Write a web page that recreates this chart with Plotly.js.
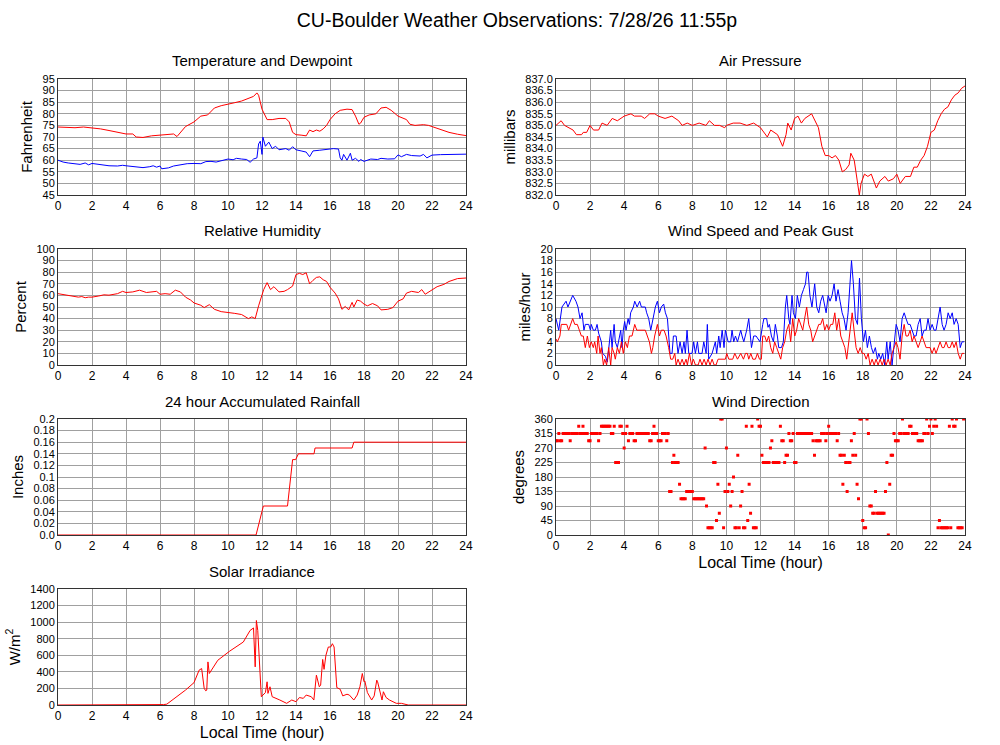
<!DOCTYPE html>
<html>
<head>
<meta charset="utf-8">
<script src="https://cdn.plot.ly/plotly-3.0.1.min.js"></script>
<style>
  html, body { margin: 0; padding: 0; background: #fff; }
  #chart { width: 1000px; height: 745px; }
</style>
</head>
<body>
<div id="chart"></div>
<script>
// Temperature (red) and dewpoint (blue), deg F
const tempHr = [0, 0.5, 1, 1.5, 2, 2.5, 3, 3.5, 4, 4.4, 4.6, 5, 5.5, 6, 6.5, 6.8, 7, 7.2, 7.5, 8, 8.4, 8.8, 9.2, 9.6, 10, 10.4, 10.8, 11.2, 11.5, 11.7, 11.8, 12, 12.3, 12.6, 13, 13.4, 13.6, 13.8, 14, 14.3, 14.6, 14.8, 15, 15.2, 15.4, 15.6, 15.8, 16, 16.3, 16.6, 17, 17.3, 17.5, 17.7, 17.8, 18, 18.3, 18.7, 19, 19.3, 19.6, 20, 20.2, 20.5, 20.7, 21, 21.3, 21.5, 21.8, 22, 22.4, 23, 23.5, 24];
const tempF = [74.3, 74, 74, 74.3, 74, 73.5, 72.8, 72, 71.3, 71.3, 70, 69.8, 70.5, 70.8, 71.2, 71.3, 70.2, 72, 74.5, 76.5, 79, 79.5, 82.5, 83.5, 84, 84.8, 85.5, 86.8, 87.5, 89, 88, 82, 77.5, 77.5, 78, 78, 76.5, 72, 71, 70.8, 70.5, 73, 72.3, 73, 72.5, 73.5, 75, 77.5, 80, 81.5, 82, 81.8, 79, 75.5, 76, 78.5, 79.5, 80, 82.5, 82.8, 81.5, 79, 78.3, 77.5, 75.5, 75, 75.2, 75.3, 75, 74.5, 73.5, 72, 71.2, 70.6];
const dewHr = [0, 0.3, 0.6, 1, 1.3, 1.6, 1.8, 2, 2.4, 2.7, 3, 3.5, 3.8, 4, 4.3, 4.6, 5, 5.4, 5.6, 5.8, 6, 6.1, 6.5, 6.8, 7.2, 7.6, 8, 8.4, 8.7, 9, 9.3, 9.6, 10, 10.3, 10.5, 10.8, 11.1, 11.3, 11.5, 11.7, 11.8, 11.9, 12, 12.05, 12.2, 12.4, 12.6, 12.8, 13, 13.4, 13.6, 13.8, 14, 14.3, 14.6, 14.8, 15, 15.4, 15.8, 16.2, 16.5, 16.6, 16.7, 16.8, 17, 17.2, 17.3, 17.5, 17.7, 17.8, 18, 18.4, 18.8, 19, 19.4, 19.8, 20, 20.2, 20.5, 20.8, 21.3, 21.5, 21.7, 22, 22.5, 23, 23.5, 24];
const dewF = [60, 59.2, 58.8, 58.6, 58.2, 58.8, 58, 58.6, 58.2, 57.8, 57.6, 57.5, 57.8, 57.6, 57.4, 57.2, 56.8, 57.2, 57.6, 57, 57.5, 56.3, 56.7, 57.5, 58, 58.5, 58.6, 58.5, 59.4, 59.5, 59.2, 59.8, 60.5, 60.2, 60.8, 60.5, 60.3, 59.1, 60.5, 61, 67, 68.2, 62.5, 70, 66, 67.8, 65, 66, 64.5, 65, 64.3, 65.8, 64.5, 64, 63.5, 61.5, 64, 64.3, 64.8, 65, 64.8, 61, 60, 62.5, 60, 63, 60, 60.8, 59.5, 60.3, 59.5, 60.5, 60.3, 60.8, 60.5, 60.6, 62.3, 61.5, 62.5, 62, 61.8, 62.5, 61, 62.2, 62.4, 62.5, 62.6, 62.6];

// Air pressure, millibars
const presHr = [0, 0.3, 0.5, 1, 1.2, 1.5, 1.6, 1.8, 2, 2.2, 2.5, 2.7, 3, 3.3, 3.6, 4, 4.4, 4.6, 5, 5.2, 5.5, 5.8, 6, 6.4, 6.8, 7.2, 7.4, 7.7, 8, 8.4, 8.8, 9, 9.3, 9.6, 9.9, 10, 10.4, 10.8, 11.2, 11.6, 12, 12.4, 12.6, 12.8, 13, 13.3, 13.5, 13.6, 13.8, 14, 14.2, 14.4, 14.6, 15, 15.2, 15.4, 15.6, 15.8, 16, 16.2, 16.4, 16.6, 16.8, 17, 17.2, 17.3, 17.5, 17.6, 17.8, 17.9, 18.1, 18.3, 18.5, 18.7, 18.8, 19, 19.3, 19.5, 19.8, 20, 20.2, 20.5, 20.8, 21, 21.2, 21.4, 21.6, 21.8, 22, 22.2, 22.4, 22.6, 22.8, 23, 23.2, 23.4, 23.6, 23.8, 24];
const presMb = [835.0, 835.2, 835.0, 834.8, 834.6, 834.6, 834.7, 834.7, 835.0, 834.8, 834.8, 835.1, 835.0, 835.3, 835.2, 835.4, 835.5, 835.4, 835.4, 835.3, 835.5, 835.5, 835.4, 835.3, 835.4, 835.2, 835.0, 835.1, 835.0, 835.1, 835.0, 835.2, 835.0, 835.0, 834.9, 835.0, 835.1, 835.1, 835.0, 835.1, 834.9, 834.5, 834.8, 834.7, 834.6, 834.1, 834.6, 835.1, 834.8, 835.3, 835.4, 835.1, 835.3, 835.5, 835.2, 834.9, 834.1, 833.7, 833.7, 833.6, 833.7, 833.5, 833.0, 833.1, 833.3, 833.8, 833.5, 833.0, 832.0, 832.5, 832.9, 832.8, 832.9, 832.5, 832.3, 832.6, 832.8, 832.6, 832.7, 832.9, 832.5, 832.8, 832.8, 833.2, 833.2, 833.5, 833.7, 834.1, 834.7, 834.8, 835.2, 835.5, 835.7, 835.8, 836.1, 836.3, 836.4, 836.6, 836.7];

// Relative humidity, percent
const rhHr = [0, 0.5, 1, 1.2, 1.4, 1.6, 1.8, 2, 2.4, 2.7, 3, 3.5, 3.8, 4, 4.4, 4.8, 5.2, 5.6, 5.8, 6, 6.3, 6.6, 6.9, 7.2, 7.5, 7.8, 8, 8.4, 8.6, 8.9, 9.2, 9.6, 10, 10.4, 10.8, 11.2, 11.4, 11.6, 11.8, 12, 12.1, 12.3, 12.5, 12.7, 13, 13.3, 13.5, 13.8, 14, 14.2, 14.4, 14.6, 14.8, 15, 15.2, 15.4, 15.6, 15.8, 16, 16.3, 16.5, 16.7, 16.9, 17.1, 17.3, 17.4, 17.6, 17.8, 18, 18.2, 18.5, 18.8, 19, 19.4, 19.7, 20, 20.3, 20.5, 20.8, 21.2, 21.4, 21.6, 22, 22.3, 22.7, 23, 23.5, 24];
const rhPct = [61.5, 60.5, 59.5, 58.5, 59, 58, 58.5, 58.5, 59.5, 60.5, 60.2, 61.5, 63.5, 62.5, 63, 64.5, 62.5, 63, 63.5, 61, 61.5, 61, 64.5, 63, 58.5, 56, 53.5, 51.5, 49.5, 52, 48, 46, 45.5, 44.5, 43.5, 40, 41.5, 40, 51, 60, 65, 71, 65, 67.5, 63, 63.5, 65, 68, 78, 79, 78, 79.5, 70, 73, 75.5, 76, 73.5, 72, 67, 62, 57, 48, 50.5, 47.5, 54, 50, 56, 55, 52.5, 51, 53, 51, 47.5, 48, 49.5, 55, 57, 62, 63.5, 62.5, 65, 61, 65, 67.5, 69.5, 72, 74.5, 75];

// Wind speed (red) and peak gust (blue), mph
const gustHr = [0, 0.16, 0.35, 0.59, 0.7, 0.98, 1.17, 1.29, 1.41, 1.53, 1.64, 1.72, 1.92, 2.02, 2.07, 2.19, 2.31, 2.41, 2.5, 2.66, 2.74, 2.9, 3.01, 3.09, 3.21, 3.29, 3.41, 3.48, 3.6, 3.8, 3.87, 3.95, 4.03, 4.11, 4.23, 4.31, 4.38, 4.54, 4.62, 4.76, 4.91, 5.01, 5.24, 5.32, 5.44, 5.56, 5.68, 5.83, 5.95, 6.07, 6.18, 6.32, 6.42, 6.54, 6.69, 6.81, 6.89, 7.05, 7.16, 7.28, 7.4, 7.51, 7.59, 7.69, 7.79, 7.98, 8.08, 8.18, 8.3, 8.38, 8.57, 8.67, 8.81, 8.88, 8.96, 9.16, 9.35, 9.43, 9.55, 9.63, 9.75, 9.86, 9.94, 10.1, 10.25, 10.33, 10.43, 10.53, 10.65, 10.84, 10.92, 11.02, 11.19, 11.31, 11.47, 11.6, 11.74, 11.97, 12.13, 12.2, 12.36, 12.44, 12.52, 12.64, 12.76, 12.87, 12.99, 13.07, 13.23, 13.34, 13.46, 13.54, 13.66, 13.73, 13.85, 13.93, 14.05, 14.16, 14.28, 14.4, 14.52, 14.64, 14.71, 14.79, 14.9, 15.02, 15.18, 15.3, 15.42, 15.53, 15.65, 15.77, 15.85, 15.97, 16.08, 16.2, 16.32, 16.43, 16.55, 16.67, 16.79, 16.9, 17.02, 17.14, 17.26, 17.34, 17.45, 17.57, 17.69, 17.81, 17.92, 18.04, 18.16, 18.27, 18.39, 18.51, 18.62, 18.74, 18.86, 18.94, 19.06, 19.17, 19.29, 19.41, 19.49, 19.61, 19.72, 19.84, 19.96, 20.07, 20.19, 20.31, 20.43, 20.54, 20.66, 20.78, 20.9, 21.01, 21.13, 21.25, 21.37, 21.48, 21.6, 21.72, 21.83, 21.95, 22.07, 22.19, 22.3, 22.42, 22.54, 22.66, 22.77, 22.89, 23.01, 23.13, 23.25, 23.36, 23.48, 23.6, 23.72, 23.83, 23.95];
const gustMph = [8, 6, 10, 11, 10, 12, 11, 10, 8, 9, 6, 7, 7, 6, 7, 6, 6, 7, 5.5, 4, 2, 1.5, 0.5, 3, 6, 3, 7, 4, 3, 6, 3, 6, 7.5, 6, 8, 7, 9, 10, 11, 10, 11, 10, 10, 9, 8, 6, 8, 10, 11, 9, 10, 10.5, 9, 8, 2, 2, 5, 5, 2, 4, 2, 4, 2, 6, 2, 2, 4, 2, 4, 2, 2, 4, 2, 7, 1, 2, 4, 2, 5, 3, 6, 3, 6, 4, 4, 6, 4, 5, 4, 6, 5, 4, 6, 8, 3, 5, 5, 4, 7, 8, 8, 6.5, 7, 5, 4, 7, 5, 3, 3, 4, 10, 12, 8, 7, 12, 9, 8, 12, 10, 12, 13, 14, 16, 16, 12, 10, 14, 10, 9, 11, 12, 10, 9, 12, 11, 12, 14, 11, 13, 11, 9, 8, 6, 9, 15, 18, 14, 8, 7, 15, 8, 4, 6, 3, 5, 3, 2, 3, 1, 2, 1, 2, 0, 4, 1, 4, 0, 4, 7, 6, 4, 8, 9, 8, 7, 7, 6, 5, 5, 7, 8, 5, 6, 6, 8, 6, 7, 6, 6, 8, 10, 7, 6, 7, 9, 8, 9, 7, 8, 7, 3, 4, 4];
const speedHr = [0, 0.08, 0.23, 0.31, 0.47, 0.63, 0.74, 0.86, 0.98, 1.1, 1.25, 1.37, 1.49, 1.6, 1.72, 1.84, 1.96, 2.07, 2.19, 2.27, 2.39, 2.47, 2.58, 2.66, 2.78, 2.86, 2.97, 3.09, 3.21, 3.29, 3.41, 3.48, 3.6, 3.72, 3.84, 3.95, 4.07, 4.19, 4.31, 4.46, 4.62, 4.74, 4.89, 5.05, 5.24, 5.36, 5.48, 5.6, 5.68, 5.79, 5.95, 6.07, 6.18, 6.34, 6.46, 6.61, 6.73, 6.85, 6.97, 7.05, 7.16, 7.28, 7.4, 7.51, 7.63, 7.71, 7.83, 7.95, 8.06, 8.18, 8.34, 8.45, 8.57, 8.69, 8.81, 8.92, 9.04, 9.16, 9.28, 9.39, 9.51, 9.94, 10.02, 10.14, 10.37, 10.49, 10.65, 10.84, 11.0, 11.12, 11.23, 11.31, 11.43, 11.55, 11.7, 11.82, 11.94, 12.05, 12.13, 12.25, 12.36, 12.48, 12.6, 12.72, 12.83, 12.95, 13.07, 13.19, 13.3, 13.42, 13.54, 13.66, 13.77, 13.89, 14.01, 14.12, 14.24, 14.36, 14.48, 14.59, 14.71, 14.83, 14.95, 15.06, 15.18, 15.3, 15.42, 15.53, 15.65, 15.77, 15.89, 16.0, 16.12, 16.24, 16.36, 16.47, 16.59, 16.71, 16.83, 16.95, 17.06, 17.18, 17.3, 17.38, 17.49, 17.61, 17.73, 17.85, 17.96, 18.08, 18.2, 18.32, 18.43, 18.55, 18.67, 18.78, 18.9, 19.02, 19.14, 19.25, 19.37, 19.49, 19.61, 19.72, 19.84, 19.96, 20.07, 20.19, 20.31, 20.43, 20.54, 20.66, 20.78, 20.9, 21.01, 21.13, 21.25, 21.37, 21.48, 21.6, 21.72, 21.83, 21.95, 22.07, 22.19, 22.3, 22.42, 22.54, 22.66, 22.77, 22.89, 23.01, 23.13, 23.25, 23.36, 23.48, 23.6, 23.72, 23.83, 23.95];
const speedMph = [4.5, 4, 5, 7, 7, 7, 6, 7, 8, 7, 7, 6, 5, 5, 3, 5, 3, 4, 3, 4, 2, 5, 2, 3, 0, 1, 0, 3, 0, 3, 2, 1, 3, 2, 4, 2, 4, 3, 5, 5, 7, 6, 6, 6, 6, 5, 4, 2, 3, 5, 7, 5, 6, 6, 5, 3, 1, 1, 2, 0, 1, 0, 1, 0, 1, 0, 2, 0, 1, 0, 0, 1, 0, 1, 0, 1, 0, 1, 0, 0, 1, 1, 2, 1, 1, 2, 1, 2, 1, 2, 2, 1, 2, 1, 1, 2, 1, 1, 5, 5, 4, 5, 3, 2, 4, 3, 2, 1, 3, 4, 6, 7, 4, 8, 5, 6, 8, 7, 6, 8, 10, 7, 6, 4, 5, 6, 7, 7, 8, 6, 7, 6, 7, 7, 9, 6, 8, 5, 4, 3, 1, 4, 7, 9, 6, 3, 2, 3, 2, 2, 1, 2, 0, 1, 0, 1, 0, 1, 0, 1, 0, 1, 0, 2, 3, 4, 3, 1, 5, 7, 5, 5, 6, 4, 5, 4, 3, 4, 5, 4, 3, 3, 3, 2, 3, 2, 3, 4, 3, 3, 4, 3, 3, 4, 3, 4, 2, 1, 2, 2];

// 24 hour accumulated rainfall, inches
const rainHr = [0, 11.65, 12.08, 13.5, 13.8, 13.98, 14.14, 15.06, 15.12, 17.3, 17.4, 24];
const rainIn = [0, 0, 0.05, 0.05, 0.13, 0.13, 0.14, 0.14, 0.15, 0.15, 0.16, 0.16];
const rainTickVals = [0, 0.02, 0.04, 0.06, 0.08, 0.1, 0.12, 0.14, 0.16, 0.18, 0.2];
const rainTickText = ['0.0', '0.02', '0.04', '0.06', '0.08', '0.1', '0.12', '0.14', '0.16', '0.18', '0.2'];

// Wind direction, degrees, one reading every 5 minutes from 0:00
const DIR_STEP_HR = 1 / 12;
const dirDeg = [
  292.5, 292.5, 315, 292.5, 292.5, 315, 315, 315, 315, 315, 292.5, 315,
  315, 315, 315, 315, 337.5, 315, 315, 337.5, 315, 315, 315, 292.5,
  292.5, 315, 315, 315, 315, 315, 292.5, 315, 337.5, 337.5, 337.5, 337.5,
  337.5, 337.5, 337.5, 315, 315, 337.5, 225, 225, 225, 337.5, 337.5, 315,
  270, 315, 337.5, 292.5, 315, 315, 315, 292.5, 292.5, 315, 315, 315,
  315, 315, 315, 315, 315, 315, 292.5, 292.5, 315, 337.5, 315, 315,
  292.5, 292.5, 292.5, 315, 315, 315, 292.5, 315, 135, 135, 225, 247.5,
  225, 225, 225, 157.5, 112.5, 112.5, 112.5, 112.5, 135, 135, 135, 135,
  135, 112.5, 112.5, 112.5, 112.5, 112.5, 112.5, 112.5, 112.5, 270, 90, 22.5,
  22.5, 22.5, 22.5, 225, 225, 45, 157.5, 67.5, 360, 360, 22.5, 135,
  270, 135, 157.5, 90, 135, 180, 22.5, 22.5, 247.5, 22.5, 90, 135,
  22.5, 22.5, 337.5, 45, 157.5, 67.5, 337.5, 22.5, 22.5, 22.5, 360, 337.5,
  337.5, 247.5, 225, 225, 225, 225, 225, 270, 292.5, 225, 225, 225,
  225, 225, 337.5, 292.5, 292.5, 225, 247.5, 247.5, 315, 292.5, 292.5, 315,
  225, 225, 315, 315, 315, 315, 315, 315, 315, 315, 315, 315,
  315, 292.5, 247.5, 292.5, 292.5, 292.5, 292.5, 315, 315, 315, 292.5, 315,
  337.5, 315, 315, 315, 315, 315, 292.5, 315, 247.5, 247.5, 157.5, 247.5,
  225, 135, 225, 225, 292.5, 247.5, 315, 247.5, 157.5, 112.5, 360, 360,
  45, 22.5, 22.5, 360, 315, 90, 90, 67.5, 67.5, 135, 67.5, 67.5,
  67.5, 67.5, 67.5, 67.5, 135, 225, 0, 157.5, 247.5, 247.5, 315, 292.5,
  292.5, 292.5, 315, 315, 360, 315, 315, 315, 315, 337.5, 337.5, 315,
  315, 315, 315, 292.5, 292.5, 292.5, 292.5, 315, 315, 360, 315, 337.5,
  360, 315, 337.5, 360, 337.5, 22.5, 45, 22.5, 22.5, 22.5, 22.5, 22.5,
  22.5, 337.5, 22.5, 360, 337.5, 337.5, 360, 22.5, 22.5, 22.5, 22.5, 360
];
const dirHr = dirDeg.map((d, i) => i * DIR_STEP_HR);

// Solar irradiance, W/m^2
const solarHr = [0, 6.0, 6.2, 6.4, 7, 7.5, 8, 8.3, 8.45, 8.6, 8.7, 8.75, 8.82, 8.9, 9.4, 10.1, 10.9, 11.3, 11.5, 11.6, 11.67, 11.75, 11.96, 12.2, 12.3, 12.35, 12.47, 12.6, 13.05, 13.45, 13.75, 14.0, 14.2, 14.43, 14.6, 14.9, 15.05, 15.2, 15.37, 15.45, 15.57, 15.65, 15.76, 15.9, 16.04, 16.14, 16.24, 16.4, 16.6, 16.75, 17.0, 17.14, 17.4, 17.6, 17.76, 17.9, 18.0, 18.05, 18.2, 18.45, 18.6, 18.75, 18.8, 18.98, 19.06, 19.14, 19.3, 19.5, 19.7, 19.9, 20.2, 20.5, 20.6, 24];
const solarW = [0, 0, 5, 10, 100, 180, 270, 420, 440, 200, 170, 180, 520, 380, 540, 650, 760, 900, 930, 460, 1020, 900, 100, 150, 280, 140, 220, 100, 60, 20, 60, 40, 90, 80, 120, 100, 60, 360, 220, 240, 550, 430, 600, 700, 700, 740, 700, 210, 190, 110, 130, 120, 60, 120, 220, 380, 280, 290, 150, 60, 110, 300, 280, 100, 60, 160, 90, 60, 40, 20, 20, 5, 0, 0];

const hourTicks = [0, 2, 4, 6, 8, 10, 12, 14, 16, 18, 20, 22, 24];

const RED = '#ff0000', BLUE = '#0000ff';
const FONT = 'Liberation Sans, Arial, sans-serif';

function line(x, y, color, xa, ya) {
  return { x: x, y: y, xaxis: xa, yaxis: ya, type: 'scatter', mode: 'lines',
           line: { color: color, width: 1 }, hoverinfo: 'skip' };
}

const data = [
  line(tempHr, tempF, RED, 'x', 'y'),
  line(dewHr, dewF, BLUE, 'x', 'y'),
  line(presHr, presMb, RED, 'x2', 'y2'),
  line(rhHr, rhPct, RED, 'x3', 'y3'),
  line(gustHr, gustMph, BLUE, 'x4', 'y4'),
  line(speedHr, speedMph, RED, 'x4', 'y4'),
  line(rainHr, rainIn, RED, 'x5', 'y5'),
  { x: dirHr, y: dirDeg, xaxis: 'x6', yaxis: 'y6', type: 'scatter', mode: 'markers',
    marker: { symbol: 'square', size: 3, color: RED }, hoverinfo: 'skip' },
  line(solarHr, solarW, RED, 'x7', 'y7')
];

// plot areas in pixels
const H = 745, W = 1000;
const colX = [[58, 466], [556, 965]];
const rowY = [[79, 195], [249, 365], [419, 535], [589, 705]];

function xAx(col, anchor, title) {
  const a = {
    domain: [colX[col][0] / W, colX[col][1] / W], anchor: anchor,
    range: [0, 24], tickvals: hourTicks, showgrid: true, gridcolor: '#a0a0a0', gridwidth: 1,
    zeroline: false, showline: true, linecolor: '#333', linewidth: 1, mirror: true,
    ticks: '', tickfont: { size: 12, color: '#000' }
  };
  if (title) a.title = { text: title, font: { size: 16, color: '#000' }, standoff: 4 };
  return a;
}
function yAx(col, row, anchor, range, extra, title) {
  const a = Object.assign({
    domain: [1 - rowY[row][1] / H, 1 - rowY[row][0] / H], anchor: anchor,
    range: range, showgrid: true, gridcolor: '#a0a0a0', gridwidth: 1,
    zeroline: false, showline: true, linecolor: '#333', linewidth: 1, mirror: true,
    ticks: '', tickfont: { size: 11, color: '#000' },
    title: { text: title, font: { size: 15, color: '#000' }, standoff: 6 }
  }, extra);
  return a;
}

function subTitle(col, row, text) {
  return { text: text, showarrow: false, xref: 'paper', yref: 'paper',
           x: (colX[col][0] + colX[col][1]) / 2 / W, y: 1 - (rowY[row][0] - 18) / H,
           xanchor: 'center', yanchor: 'middle', font: { size: 15, color: '#000' } };
}

const layout = {
  width: W, height: H,
  margin: { l: 0, r: 0, t: 0, b: 0 },
  paper_bgcolor: '#fff', plot_bgcolor: '#fff',
  font: { family: FONT, color: '#000' },
  showlegend: false,
  title: { text: 'CU-Boulder Weather Observations: 7/28/26 11:55p', font: { size: 19.5, color: '#000' },
           x: 0.517, xanchor: 'center', y: 1 - 20 / H, yanchor: 'middle' },
  xaxis: xAx(0, 'y'),
  yaxis: yAx(0, 0, 'x', [45, 95], { dtick: 5 }, 'Fahrenheit'),
  xaxis2: xAx(1, 'y2'),
  yaxis2: yAx(1, 0, 'x2', [832, 837], { dtick: 0.5, tickformat: '.1f' }, 'millibars'),
  xaxis3: xAx(0, 'y3'),
  yaxis3: yAx(0, 1, 'x3', [0, 100], { dtick: 10 }, 'Percent'),
  xaxis4: xAx(1, 'y4'),
  yaxis4: yAx(1, 1, 'x4', [0, 20], { dtick: 2 }, 'miles/hour'),
  xaxis5: xAx(0, 'y5'),
  yaxis5: yAx(0, 2, 'x5', [0, 0.2], { tickvals: rainTickVals, ticktext: rainTickText }, 'Inches'),
  xaxis6: xAx(1, 'y6', 'Local Time (hour)'),
  yaxis6: yAx(1, 2, 'x6', [0, 360], { dtick: 45 }, 'degrees'),
  xaxis7: xAx(0, 'y7', 'Local Time (hour)'),
  yaxis7: yAx(0, 3, 'x7', [0, 1400], { dtick: 200 }, 'W/m<sup>2</sup>'),
  annotations: [
    subTitle(0, 0, 'Temperature and Dewpoint'),
    subTitle(1, 0, 'Air Pressure'),
    subTitle(0, 1, 'Relative Humidity'),
    subTitle(1, 1, 'Wind Speed and Peak Gust'),
    subTitle(0, 2, '24 hour Accumulated Rainfall'),
    subTitle(1, 2, 'Wind Direction'),
    subTitle(0, 3, 'Solar Irradiance')
  ]
};

Plotly.newPlot('chart', data, layout, { displayModeBar: false, staticPlot: true });
</script>
</body>
</html>
